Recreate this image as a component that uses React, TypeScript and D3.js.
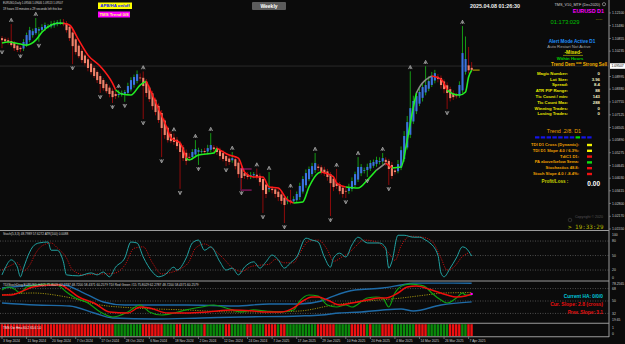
import React from "react";
import * as d3 from "d3";

// ---------------- data ----------------
const firstOpen = 1.1087;
const closes = [
  1.1077, 1.1072, 1.1068, 1.1053, 1.1038, 1.1029, 1.1033, 1.1068, 1.1102, 1.1126,
  1.1121, 1.1136, 1.1131, 1.1141, 1.1151, 1.1146, 1.1155, 1.116, 1.1165, 1.1165,
  1.1155, 1.1126, 1.1087, 1.1048, 1.1019, 1.0999, 1.098, 1.0965, 1.0941, 1.0921,
  1.0902, 1.0882, 1.0863, 1.0843, 1.0828, 1.0814, 1.0799, 1.0804, 1.0814, 1.0819,
  1.0824, 1.0853, 1.0882, 1.0897, 1.0911, 1.0892, 1.0853, 1.0819, 1.0789, 1.0755,
  1.0726, 1.0687, 1.0648, 1.0614, 1.0589, 1.0584, 1.058, 1.056, 1.0531, 1.0501,
  1.0487, 1.0506, 1.0531, 1.0545, 1.054, 1.0536, 1.0531, 1.055, 1.0565, 1.0545,
  1.0531, 1.0511, 1.0497, 1.0487, 1.0482, 1.0501, 1.0462, 1.0423, 1.0404, 1.0414,
  1.0409, 1.0419, 1.0423, 1.0409, 1.0384, 1.0345, 1.0326, 1.0355, 1.0345, 1.0326,
  1.0311, 1.0292, 1.0272, 1.0297, 1.0287, 1.0301, 1.0326, 1.0365, 1.0399, 1.0428,
  1.0448, 1.0462, 1.0477, 1.0453, 1.0433, 1.0428, 1.0409, 1.0379, 1.036, 1.0365,
  1.034, 1.0326, 1.034, 1.036, 1.0389, 1.0423, 1.0458, 1.0458, 1.0443, 1.0458,
  1.0477, 1.0482, 1.0492, 1.0487, 1.0501, 1.0482, 1.0448, 1.0414, 1.0433, 1.0472,
  1.054, 1.0609, 1.0677, 1.0745, 1.078, 1.0804, 1.0824, 1.0848, 1.0858, 1.0877,
  1.0902, 1.0916, 1.0887, 1.0858, 1.0838, 1.0819, 1.0794, 1.0799, 1.0804, 1.0858,
  1.1014, 1.0985, 1.093, 1.0932,
];
const upWickPips = [
  10, 8, 12, 83, 10, 6, 8, 14, 12, 16,
  12, 49, 10, 14, 12, 10, 15, 12, 10, 14,
  18, 12, 10, 14, 8, 10, 12, 8, 10, 12,
  10, 8, 12, 10, 8, 10, 12, 14, 19, 12,
  10, 16, 14, 12, 18, 20, 31, 14, 10, 12,
  10, 12, 14, 10, 8, 12, 20, 14, 10, 12,
  16, 18, 14, 44, 12, 10, 14, 16, 58, 12,
  10, 12, 14, 10, 12, 30, 10, 12, 14, 18,
  12, 14, 10, 30, 12, 10, 14, 78, 12, 10,
  12, 14, 10, 18, 53, 14, 12, 16, 14, 18,
  12, 16, 49, 12, 10, 14, 12, 10, 14, 68,
  12, 10, 14, 16, 18, 12, 48, 14, 12, 16,
  14, 12, 16, 18, 25, 12, 10, 14, 16, 20,
  18, 24, 30, 180, 26, 22, 18, 20, 92, 24,
  20, 16, 14, 12, 10, 14, 12, 16, 12, 18,
  132, 110, 90, 28,
];
const downWickPips = [
  39, 10, 12, 8, 14, 10, 15, 12, 8, 10,
  12, 8, 54, 10, 12, 8, 10, 12, 10, 8,
  10, 12, 14, 88, 12, 10, 14, 12, 16, 12,
  10, 14, 44, 12, 10, 16, 29, 14, 12, 10,
  39, 12, 10, 14, 12, 16, 161, 20, 14, 18,
  16, 14, 142, 18, 12, 10, 14, 16, 180, 14,
  20, 18, 12, 14, 64, 12, 10, 14, 12, 16,
  14, 18, 12, 25, 14, 12, 16, 18, 54, 14,
  12, 16, 14, 12, 18, 112, 20, 14, 16, 18,
  20, 16, 88, 14, 12, 10, 12, 14, 10, 12,
  10, 12, 14, 16, 12, 14, 18, 161, 20, 14,
  16, 18, 34, 14, 12, 10, 12, 14, 16, 34,
  12, 10, 14, 12, 16, 18, 78, 14, 12, 10,
  12, 14, 10, 16, 12, 14, 12, 18, 14, 12,
  10, 14, 16, 18, 20, 78, 16, 14, 12, 10,
  12, 14, 16, 12,
];
const fractalUpBars = [3, 11, 38, 46, 56, 63, 68, 75, 83, 87, 94, 102, 109, 116, 124, 133, 138, 150];
const fractalDownBars = [0, 6, 12, 23, 32, 36, 40, 46, 52, 58, 64, 73, 78, 85, 92, 107, 112, 119, 126, 145];

// trend line: [bar, price, state of following segment]  g=up r=down n=neutral
const trendPoints: [number, number, string][] = [
  [0, 1.1063, "g"], [2, 1.1068, "g"], [6, 1.1058, "g"], [8, 1.1053, "g"], [11, 1.1077, "g"],
  [13, 1.1116, "g"], [16, 1.1151, "g"], [18, 1.116, "g"], [20, 1.116, "r"], [22, 1.1151, "r"],
  [25, 1.1077, "r"], [28, 1.1004, "r"], [32, 1.095, "r"], [36, 1.0867, "r"], [37, 1.0835, "g"],
  [39, 1.0814, "g"], [42, 1.0809, "g"], [45, 1.0858, "g"], [47, 1.0877, "r"], [50, 1.0775, "r"],
  [54, 1.0638, "r"], [55, 1.0599, "r"], [58, 1.0575, "r"], [60, 1.0501, "g"], [61, 1.0492, "g"],
  [64, 1.0516, "g"], [69, 1.0526, "g"], [70, 1.055, "r"], [74, 1.0516, "r"], [77, 1.0501, "r"],
  [79, 1.0433, "r"], [82, 1.0409, "r"], [85, 1.0409, "r"], [87, 1.036, "r"], [90, 1.0355, "r"],
  [93, 1.0297, "r"], [95, 1.0282, "g"], [98, 1.0287, "g"], [100, 1.036, "g"], [103, 1.0428, "g"],
  [104, 1.0433, "r"], [108, 1.0409, "r"], [109, 1.0379, "r"], [112, 1.036, "g"], [116, 1.0355, "g"],
  [119, 1.0394, "g"], [122, 1.0443, "n"], [125, 1.0477, "r"], [127, 1.0453, "g"], [130, 1.0458, "g"],
  [132, 1.0589, "g"], [134, 1.075, "g"], [135, 1.0819, "n"], [136, 1.0848, "n"], [140, 1.0902, "r"],
  [143, 1.0887, "r"], [145, 1.0833, "g"], [147, 1.0814, "g"], [149, 1.0809, "g"], [151, 1.0824, "g"],
  [152, 1.0897, "g"], [153, 1.0931, "g"],
];
const bracketBars = [78, 81];
const bracketPrices = [1.0448, 1.0345];

const priceTicks = [
  1.121, 1.1148, 1.10855, 1.10235, 1.08995, 1.0838, 1.07755, 1.07125, 1.06505,
  1.0589, 1.05275, 1.04645, 1.0403, 1.03415, 1.028, 1.0217, 1.0155,
];
const lastPrice = 1.09507;
const dateLabels = [
  "3 Sep 2024", "11 Sep 2024", "20 Sep 2024", "7 Oct 2024", "17 Oct 2024", "28 Oct 2024",
  "6 Nov 2024", "18 Nov 2024", "2 Dec 2024", "12 Dec 2024", "24 Dec 2024", "7 Jan 2025",
  "17 Jan 2025", "29 Jan 2025", "10 Feb 2025", "20 Feb 2025", "4 Mar 2025", "14 Mar 2025",
  "26 Mar 2025", "7 Apr 2025",
];

const stochMain: [number, number][] = [
  [0, 10], [1, 24], [3, 41], [5, 26], [6, 6], [7, 24], [9, 57], [10, 68], [12, 76], [15, 78],
  [16, 61], [18, 61], [20, 37], [21, 10], [25, 8], [29, 14], [31, 10], [33, 16], [35, 6], [37, 26],
  [40, 45], [42, 78], [44, 76], [46, 47], [49, 16], [51, 6], [53, 10], [56, 26], [57, 20], [60, 45],
  [62, 76], [64, 82], [66, 61], [68, 68], [71, 37], [73, 20], [75, 24], [77, 10], [79, 26], [82, 37],
  [84, 24], [86, 37], [88, 51], [90, 41], [92, 24], [94, 35], [96, 47], [99, 86], [101, 82], [103, 78],
  [105, 47], [107, 26], [108, 45], [110, 55], [112, 47], [114, 72], [116, 88], [119, 76], [123, 76], [125, 66],
  [126, 24], [127, 37], [129, 92], [131, 92], [134, 88], [136, 88], [138, 82], [139, 78], [142, 51], [143, 14],
  [144, 6], [146, 24], [148, 45], [150, 68], [151, 66], [153, 49],
];
const stochSignal: [number, number][] = [
  [0, 20], [3, 30], [5, 35], [7, 18], [9, 30], [11, 55], [13, 70], [16, 76], [18, 66], [21, 45],
  [23, 20], [27, 10], [31, 12], [34, 12], [37, 14], [40, 30], [43, 65], [46, 68], [49, 35], [52, 12],
  [55, 15], [58, 22], [61, 38], [63, 65], [66, 74], [69, 62], [72, 45], [75, 25], [78, 17], [81, 27],
  [84, 30], [87, 32], [89, 42], [92, 35], [95, 35], [97, 55], [100, 80], [103, 82], [106, 62], [108, 38],
  [111, 48], [113, 55], [115, 68], [118, 82], [122, 78], [126, 55], [128, 40], [130, 70], [133, 90], [137, 88],
  [140, 80], [143, 45], [145, 20], [147, 25], [150, 48], [153, 58],
];
const stochLevels = [80, 50, 20];
const stochTicks = [100, 80, 50, 20, 0];

const tdiUpper: [number, number][] = [
  [0, 68.8], [13, 73.2], [20, 73.2], [26, 63], [33, 48.6], [40, 44.2], [60, 44.2], [76, 42.8],
  [87, 45.7], [97, 45.7], [104, 50], [108, 57.2], [115, 65.9], [124, 68.8], [130, 73.2], [134, 76],
  [143, 76], [153, 75.8],
];
const tdiLower: [number, number][] = [
  [0, 47.1], [11, 44.2], [22, 42.8], [30, 32.6], [36, 25.4], [50, 23.9], [65, 25.4], [78, 26.8],
  [97, 28.3], [104, 29.7], [110, 32.6], [117, 34.1], [124, 37], [130, 38.4], [134, 35.5], [143, 44.2],
  [153, 48.7],
];
const tdiMiddle: [number, number][] = [
  [0, 58.7], [10, 61.6], [21, 55.8], [32, 44.2], [43, 39.9], [60, 37], [75, 34.1], [86, 34.1],
  [97, 35.5], [108, 44.2], [119, 50], [130, 54.3], [138, 58.7], [144, 61.6], [153, 62.3],
];
const tdiGreen: [number, number][] = [
  [0, 65.9], [2, 70.3], [4, 67.4], [6, 61.6], [8, 70.3], [11, 73.2], [15, 74.6], [18, 73.2], [21, 63],
  [24, 54.3], [28, 47.1], [32, 34.1], [36, 26.8], [41, 34.1], [45, 44.2], [48, 34.1], [52, 29.7],
  [56, 32.6], [60, 37], [65, 41.3], [69, 44.2], [73, 39.9], [78, 34.1], [82, 37], [86, 35.5],
  [91, 34.1], [95, 37], [97, 50], [100, 58.7], [103, 57.2], [106, 44.2], [109, 41.3], [112, 44.2],
  [114, 41.3], [119, 54.3], [122, 55.8], [124, 54.3], [126, 41.3], [128, 61.6], [131, 73.2],
  [133, 74.6], [136, 73.2], [138, 70.3], [140, 61.6], [143, 51.4], [145, 47.1], [148, 54.3],
  [150, 61.6], [151, 58.7], [153, 58.4],
];
const tdiRed: [number, number][] = [
  [0, 58.7], [3, 58.7], [6, 63], [10, 70.3], [16, 73.2], [19, 73.2], [21, 68.8], [25, 55.8],
  [30, 47.1], [35, 34.1], [41, 32.6], [45, 41.3], [48, 39.9], [54, 32.6], [60, 32.6], [67, 34.1],
  [75, 37], [82, 35.5], [86, 34.1], [91, 34.1], [95, 39.9], [98, 50], [101, 55.8], [103, 55.8],
  [106, 51.4], [110, 44.2], [114, 47.1], [119, 51.4], [123, 54.3], [125, 54.3], [129, 61.6],
  [132, 70.3], [135, 71.7], [140, 65.9], [145, 58.7], [148, 55.8], [151, 57.2], [153, 60.3],
];
const tdiLevels = [68, 50, 32];
const tdiTicks = [78.2565, 68, 50, 32, 19.65];
const tdiTickText = ["78.2565", "68", "50", "32", "19.65"];

const histRuns: [number, string][] = [
  [37, "R"], [9, "G"], [7, "R"], [4, "G"], [2, "R"], [7, "G"], [1, "R"], [6, "G"], [2, "R"], [5, "G"],
  [2, "R"], [4, "G"], [4, "R"], [1, "G"], [2, "R"], [10, "G"], [6, "R"], [5, "G"], [5, "R"], [1, "G"],
  [1, "R"], [3, "G"], [4, "R"], [7, "G"], [4, "R"], [7, "G"], [4, "R"], [2, "G"], [2, "R"],
];

const statRows: [string, string][] = [
  ["Magic Number:", "0"], ["Lot Size:", "3.96"], ["Spread:", "8.4"], ["ATR PIP Range:", "88"],
  ["Tic Count / min:", "143"], ["Tic Count Max:", "288"], ["Winning Trades:", "0"], ["Losing Trades:", "0"],
];
const trendBoxes = ["b", "b", "b", "b", "b", "b", "b", "g", "b", "b"];
const trendRows: [string, string][] = [
  ["TDI D1 Cross (Dynamic):", "#f2f200"], ["TDI D1 Slope 4.0 / 6.3%:", "#f2f200"], ["TdiC1 D1:", "#ee1111"],
  ["PA above/below Sema:", "#11dd11"], ["Stochastics 48.8:", "#ee1111"], ["Stoch Slope 4.0 / -8.4%:", "#ee1111"],
];

// ---------------- layout ----------------
const W = 625;
const H = 344;
const AXIS_X = 609;
const FONT = "'Liberation Sans', Arial, 'DejaVu Sans', sans-serif";

export default function App() {
  const x = d3.scaleLinear().domain([0, 152]).range([2, 468.6]);
  const yP = d3.scaleLinear().domain([1.01501, 1.12732]).range([230, 0]);
  const yS = d3.scaleLinear().domain([0, 100]).range([279.7, 231.4]);
  const yT = d3.scaleLinear().domain([32, 68]).range([313.4, 288.6]);

  // Heiken-Ashi style bodies
  const opens: number[] = [];
  closes.forEach((c, i) => {
    opens.push(i === 0 ? firstOpen : (opens[i - 1] + closes[i - 1]) / 2);
  });
  const bars = closes.map((c, i) => {
    const o = opens[i];
    const top = Math.max(o, c);
    const bot = Math.min(o, c);
    return { i, o, c, top, bot, hi: top + upWickPips[i] * 0.0001, lo: bot - downWickPips[i] * 0.0001, bull: c >= o };
  });

  const hist: string[] = [];
  histRuns.forEach(([n, s]) => {
    for (let k = 0; k < n; k++) hist.push(s);
  });

  const segs: { s: string; pts: [number, number][] }[] = [];
  for (let k = 0; k < trendPoints.length - 1; k++) {
    const s = trendPoints[k][2];
    let cur = segs[segs.length - 1];
    if (!cur || cur.s !== s) {
      cur = { s, pts: [[trendPoints[k][0], trendPoints[k][1]]] };
      segs.push(cur);
    }
    cur.pts.push([trendPoints[k + 1][0], trendPoints[k + 1][1]]);
  }
  const trendLine = d3.line<[number, number]>().x((d) => x(d[0])).y((d) => yP(d[1])).curve(d3.curveMonotoneX);
  const sLine = d3.line<[number, number]>().x((d) => x(d[0])).y((d) => yS(d[1])).curve(d3.curveMonotoneX);
  const tLine = d3.line<[number, number]>().x((d) => x(d[0])).y((d) => yT(d[1])).curve(d3.curveMonotoneX);
  const segColor: Record<string, string> = { g: "#22ee22", r: "#ff1a1a", n: "#8a8a8a" };

  const lastTrend = trendPoints[trendPoints.length - 1];

  const rightX = 600;
  return (
    <svg
      width={W}
      height={H}
      style={{ position: "fixed", left: 0, top: 0, display: "block", background: "#0b0b0b" }}
      fontFamily={FONT}
    >
      <defs>
        <clipPath id="mainClip">
          <rect x={0} y={0} width={AXIS_X} height={230} />
        </clipPath>
      </defs>
      <rect x={0} y={0} width={W} height={H} fill="#0b0b0b" />

      {/* ---------- main panel ---------- */}
      <g clipPath="url(#mainClip)">
        <line x1={0} x2={AXIS_X} y1={yP(lastPrice)} y2={yP(lastPrice)} stroke="#2a2a2a" strokeWidth={1} />
        {bars.map((b) => (
          <line
            key={"w" + b.i}
            x1={x(b.i)}
            x2={x(b.i)}
            y1={yP(b.hi)}
            y2={yP(b.lo)}
            stroke={b.bull ? "#169a16" : "#8e0b0b"}
            strokeWidth={1}
          />
        ))}
        {bars.map((b) => (
          <rect
            key={"b" + b.i}
            x={x(b.i) - 1}
            y={yP(b.top)}
            width={2.1}
            height={Math.max(0.8, yP(b.bot) - yP(b.top))}
            fill={b.bull ? "#3a74e0" : "#f2836b"}
          />
        ))}
        {segs.map((s, k) => (
          <path key={"t" + k} d={trendLine(s.pts) || ""} fill="none" stroke={segColor[s.s]} strokeWidth={1.6} />
        ))}
        <line
          x1={x(lastTrend[0]) + 1}
          x2={x(lastTrend[0]) + 8}
          y1={yP(lastTrend[1])}
          y2={yP(lastTrend[1])}
          stroke="#c8b400"
          strokeWidth={1}
        />
        {bracketPrices.map((p, k) => (
          <line
            key={"br" + k}
            x1={x(bracketBars[0]) - 1}
            x2={x(bracketBars[1]) + 1}
            y1={yP(p)}
            y2={yP(p)}
            stroke="#e0209a"
            strokeWidth={0.8}
          />
        ))}
        <line
          x1={x(bracketBars[0]) - 1}
          x2={x(bracketBars[0]) - 1}
          y1={yP(bracketPrices[0])}
          y2={yP(bracketPrices[1])}
          stroke="#5a3050"
          strokeWidth={0.6}
        />
        {fractalUpBars.map((i) => {
          const cx = x(i);
          const cy = yP(bars[i].hi) - 4;
          return (
            <path
              key={"fu" + i}
              d={`M${cx - 1.8},${cy + 1.8} L${cx},${cy - 1.8} L${cx + 1.8},${cy + 1.8} M${cx},${cy - 0.5} L${cx},${cy + 1.8}`}
              stroke="#b8b8b8"
              strokeWidth={0.8}
              fill="none"
            />
          );
        })}
        {fractalDownBars.map((i) => {
          const cx = x(i);
          const cy = yP(bars[i].lo) + 4;
          return (
            <path
              key={"fd" + i}
              d={`M${cx - 1.8},${cy - 1.8} L${cx},${cy + 1.8} L${cx + 1.8},${cy - 1.8} M${cx},${cy + 0.5} L${cx},${cy - 1.8}`}
              stroke="#b8b8b8"
              strokeWidth={0.8}
              fill="none"
            />
          );
        })}
      </g>

      {/* top-left info */}
      <text x={3} y={4.3} fontSize={2.7} fill="#d8d8d8">EURUSD,Daily  1.09566 1.09646 1.09513 1.09507</text>
      <text x={3} y={9.6} fontSize={2.9} fill="#d8d8d8">19 hours 33 minutes x 29 seconds left this bar</text>
      <rect x={98} y={2.5} width={34} height={6.5} fill="#ffff00" />
      <text x={115} y={6.9} fontSize={4.3} fill="#1010ff" fontWeight="bold" textAnchor="middle">APB/HA on/off</text>
      <rect x={98} y={11.5} width={32} height={6} fill="#ff00ff" />
      <text x={114} y={15.7} fontSize={4.3} fill="#ffff80" fontWeight="bold" textAnchor="middle">TMS Trend 0/8</text>
      <rect x={252} y={2} width={34} height={8} fill="#5c5c5c" rx={1} />
      <text x={269} y={7.6} fontSize={5} fill="#ffffff" fontWeight="bold" textAnchor="middle">Weekly</text>
      <text x={495} y={7.8} fontSize={5.4} fill="#f0f0f0" fontWeight="bold" textAnchor="middle">2025.04.08  01:26:30</text>

      {/* top-right panel */}
      <text x={600} y={5.5} fontSize={3.8} fill="#d0d0d0" textAnchor="end">TMS_V10_MTF (Dec2020)</text>
      <circle cx={604} cy={4.2} r={1.6} fill="none" stroke="#bbb" strokeWidth={0.6} />
      <text x={604} y={12.5} fontSize={5.4} fill="#ff00ff" fontWeight="bold" textAnchor="end">EURUSD D1</text>
      <text x={565} y={23.8} fontSize={5.8} fill="#00c000" textAnchor="middle">01:173:029</text>
      <text x={599} y={20} fontSize={5} fill="#d8d000" textAnchor="middle">.....</text>
      <text x={572} y={42.5} fontSize={4.7} fill="#1e90ff" fontWeight="bold" textAnchor="middle">Alert Mode Active D1</text>
      <text x={569} y={48} fontSize={4.2} fill="#a8a8a8" textAnchor="middle">Auto Restart Not Active</text>
      <text x={573} y={54.3} fontSize={4.9} fill="#e6e600" fontWeight="bold" textAnchor="middle">-Mixed-</text>
      <line x1={563} x2={583} y1={55.4} y2={55.4} stroke="#e6e600" strokeWidth={0.5} />
      <text x={570} y={59.7} fontSize={4.3} fill="#00cc00" fontWeight="bold" textAnchor="middle">Within Hours</text>
      <text x={607} y={65.6} fontSize={4.6} fill="#f0b000" fontWeight="bold" textAnchor="end">Trend Dem *** Strong Sell</text>
      {statRows.map(([l, v], k) => (
        <g key={"st" + k}>
          <text x={568} y={74.8 + k * 5.8} fontSize={4.3} fill="#e8e800" fontWeight="bold" textAnchor="end">{l}</text>
          <text x={rightX} y={74.8 + k * 5.8} fontSize={4.3} fill="#f0f0c0" fontWeight="bold" textAnchor="end">{v}</text>
        </g>
      ))}
      <text x={564} y={133} fontSize={5.4} fill="#f0a000" textAnchor="middle">Trend .2/8. D1</text>
      {trendBoxes.map((c, k) => (
        <rect key={"tb" + k} x={535 + k * 5.8} y={136.3} width={4.4} height={2.2} fill={c === "g" ? "#00e000" : "#1414e8"} />
      ))}
      {trendRows.map(([l, c], k) => (
        <g key={"tr" + k}>
          <text x={579} y={146 + k * 5.8} fontSize={4.1} fill="#f0a000" fontWeight="bold" textAnchor="end">{l}</text>
          <rect x={587} y={143.8 + k * 5.8} width={5} height={2.4} fill={c} />
        </g>
      ))}
      <text x={555} y={183} fontSize={4.6} fill="#c8d400" fontWeight="bold" textAnchor="middle">Profit/Loss :</text>
      <text x={600} y={185.5} fontSize={6.5} fill="#ffffff" fontWeight="bold" textAnchor="end">0.00</text>
      <text x={575} y={218} fontSize={3.6} fill="#555555">Copyright © 2020</text>
      <circle cx={570} cy={220} r={1.8} fill="none" stroke="#444" strokeWidth={0.6} />
      <text x={568} y={229.3} fontSize={5.9} fill="#b8b800" fontFamily="'DejaVu Sans Mono', monospace">{"> 19:33:29"}</text>

      {/* ---------- stochastic panel ---------- */}
      <text x={3} y={235.2} fontSize={3.1} fill="#d8d8d8">Stoch(5,3,3) 48.7989 57.6272  ATR(100) 0.0088</text>
      {stochLevels.map((v) => (
        <line key={"sl" + v} x1={0} x2={AXIS_X} y1={yS(v)} y2={yS(v)} stroke="#7a7a7a" strokeWidth={0.6} strokeDasharray="1,1.5" />
      ))}
      <path d={sLine(stochSignal) || ""} fill="none" stroke="#d01010" strokeWidth={0.9} strokeDasharray="1.2,1.2" />
      <path d={sLine(stochMain) || ""} fill="none" stroke="#21a3a3" strokeWidth={1} />

      {/* ---------- TDI panel ---------- */}
      {tdiLevels.map((v) => (
        <line key={"tl" + v} x1={0} x2={AXIS_X} y1={yT(v)} y2={yT(v)} stroke="#7a7a7a" strokeWidth={0.6} strokeDasharray="1,1.5" />
      ))}
      <path d={tLine(tdiUpper) || ""} fill="none" stroke="#1e6aa6" strokeWidth={1.4} />
      <path d={tLine(tdiLower) || ""} fill="none" stroke="#1e6aa6" strokeWidth={1.4} />
      <path d={tLine(tdiMiddle) || ""} fill="none" stroke="#a89a10" strokeWidth={0.9} strokeDasharray="1.2,1.2" />
      <path d={tLine(tdiGreen) || ""} fill="none" stroke="#10a010" strokeWidth={1.2} />
      <path d={tLine(tdiRed) || ""} fill="none" stroke="#ee0d0d" strokeWidth={1.5} />
      <circle cx={x(153)} cy={yT(tdiRed[tdiRed.length - 1][1])} r={1.2} fill="#ff00ff" />
      <text x={3} y={285.6} fontSize={3.2} fill="#d8d8d8">
        TDIStochDivg EURUSD,H4(2) 75.8029 62.2787 48.7200 58.4371 60.2579   TDI Red Green #15 75.8029 62.2787 48.7200 58.4371 60.2579
      </text>
      <text x={603} y={297.5} fontSize={4.8} fill="#00c8dc" fontWeight="bold" textAnchor="end">Current HA: 0/0/0</text>
      <text x={603} y={306} fontSize={5} fill="#e81010" fontWeight="bold" textAnchor="end">Cur. Slope: 2.8 (cross)</text>
      <text x={603} y={314} fontSize={4.8} fill="#e81010" fontWeight="bold" textAnchor="end">Prev. Slope: 3.1</text>

      {/* ---------- histogram panel ---------- */}
      {hist.map((s, i) => (
        <rect key={"h" + i} x={x(i) - 1.3} y={324.2} width={2.4} height={11.8} fill={s === "G" ? "#0a8a0a" : "#f01010"} />
      ))}
      <text x={3} y={329.3} fontSize={3.1} fill="#f0f0f0">TMS Ow Hma 60.2 65.6 1.0</text>

      {/* ---------- separators & axis ---------- */}
      {[230.5, 281, 323.3, 336.7].map((yy) => (
        <line key={"sep" + yy} x1={0} x2={AXIS_X} y1={yy} y2={yy} stroke="#9c9c9c" strokeWidth={1.1} />
      ))}
      <line x1={AXIS_X} x2={AXIS_X} y1={0} y2={337} stroke="#9c9c9c" strokeWidth={1} />
      {priceTicks.map((p) => (
        <g key={"pt" + p}>
          <line x1={AXIS_X} x2={AXIS_X + 2} y1={yP(p)} y2={yP(p)} stroke="#9c9c9c" strokeWidth={0.6} />
          <text x={612} y={yP(p) + 1.2} fontSize={3.4} fill="#cccccc">{p.toFixed(5)}</text>
        </g>
      ))}
      <rect x={610} y={yP(lastPrice) - 2.8} width={15} height={5.6} fill="#ffffff" />
      <text x={611.5} y={yP(lastPrice) + 1.2} fontSize={3.4} fill="#000000">{lastPrice.toFixed(5)}</text>
      {stochTicks.map((v) => (
        <text key={"stt" + v} x={612} y={Math.min(278.5, Math.max(235.5, yS(v) + 1.2))} fontSize={3.4} fill="#cccccc">{v}</text>
      ))}
      {tdiTicks.map((v, k) => (
        <text key={"tdt" + k} x={612} y={Math.min(321, Math.max(284.5, yT(v) + 1.2))} fontSize={3.4} fill="#cccccc">{tdiTickText[k]}</text>
      ))}
      <text x={612} y={328.5} fontSize={3.4} fill="#cccccc">1</text>
      <text x={612} y={334.5} fontSize={3.4} fill="#cccccc">0</text>
      {dateLabels.map((t, k) => (
        <g key={"d" + k}>
          <line x1={x(k * 8)} x2={x(k * 8)} y1={336.7} y2={339} stroke="#9c9c9c" strokeWidth={0.6} />
          <text x={x(k * 8) + 1} y={341.5} fontSize={3.3} fill="#cccccc">{t}</text>
        </g>
      ))}
    </svg>
  );
}
